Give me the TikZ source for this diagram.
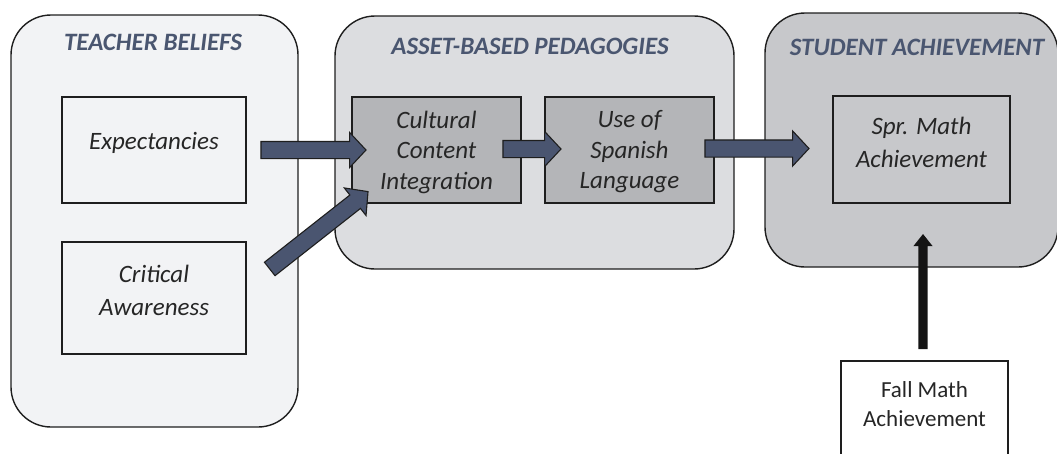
\documentclass[tikz,border=0pt]{standalone}
\usepackage{fontspec}
\setmainfont{Carlito}
\usetikzlibrary{shapes.arrows,calc}
\definecolor{panA}{HTML}{F2F3F5}
\definecolor{panB}{HTML}{DCDDE0}
\definecolor{panC}{HTML}{C7C8CB}
\definecolor{boxB}{HTML}{B4B5B8}
\definecolor{titlec}{HTML}{4A5670}
\definecolor{arrowc}{HTML}{4A5570}
\definecolor{textc}{HTML}{262626}
\definecolor{linec}{HTML}{1E1E1E}
\begin{document}
\begin{tikzpicture}[x=1pt,y=-1pt,
  panel/.style={draw=linec, line width=1.4pt, rounded corners=40pt, inner sep=0pt, outer sep=0pt},
  varbox/.style={draw=linec, line width=1.6pt, inner sep=0pt, outer sep=0pt},
  ptitle/.style={text=titlec, font=\fontsize{25}{30}\selectfont\bfseries\itshape, anchor=base, inner sep=0pt},
  btext/.style={text=textc, align=center, inner sep=0pt},
  barrow/.style={single arrow, draw=linec, line width=1.1pt, fill=arrowc, inner xsep=0pt, inner ysep=8pt,
    single arrow head extend=9pt, single arrow tip angle=94, single arrow head indent=0pt},
  karrow/.style={single arrow, draw=none, fill=black!92, inner xsep=0pt, inner ysep=4.5pt,
    single arrow head extend=5pt, single arrow tip angle=77, single arrow head indent=0pt},
  blockto/.style={to path={let \p1=(\tikztostart), \p2=(\tikztotarget), \n1={veclen(\x2-\x1,\y2-\y1)} in
    -- (\tikztotarget) node[midway, sloped, allow upside down, #1, minimum height=\n1] {}}}
]
\useasboundingbox (0,0) rectangle (1057,453);
% panels
\node[panel, fill=panA, minimum width=287pt, minimum height=412pt] (tb) at (154.5,221) {};
\node[panel, fill=panB, minimum width=399pt, minimum height=253pt] (ab) at (534.5,142.5) {};
\node[panel, fill=panC, minimum width=293pt, minimum height=254pt] (sa) at (911.5,140) {};
% titles
\node[ptitle] (tbt) at (153,50) {TEACHER BELIEFS};
\node[ptitle] (abt) at (530,54) {ASSET-BASED PEDAGOGIES};
\node[ptitle] (sat) at (917,55) {STUDENT ACHIEVEMENT};
% boxes
\node[varbox, fill=panA, minimum width=184pt, minimum height=106pt] (exp) at (154,150) {};
\node[varbox, fill=panA, minimum width=184pt, minimum height=112pt] (crit) at (154,298) {};
\node[varbox, fill=boxB, minimum width=169pt, minimum height=106pt] (cult) at (436.5,150) {};
\node[varbox, fill=boxB, minimum width=169pt, minimum height=106pt] (span) at (629.5,150) {};
\node[varbox, fill=panC, minimum width=177pt, minimum height=107pt] (spr) at (921.5,149.5) {};
\node[varbox, fill=white, minimum width=167pt, minimum height=130pt] (fall) at (924.5,426) {};
% texts
\node[btext, font=\fontsize{25}{31}\selectfont\itshape, anchor=base] (expt) at (154,149) {Expectancies};
\node[btext, font=\fontsize{25}{33}\selectfont\itshape] (critt) at (154,290) {Critical\\Awareness};
\node[btext, font=\fontsize{25}{30.5}\selectfont\itshape] (cultt) at (436.5,152) {Cultural\\Content\\Integration};
\node[btext, font=\fontsize{25}{30.5}\selectfont\itshape] (spant) at (629.5,152) {Use of\\Spanish\\Language};
\node[btext, font=\fontsize{25}{33}\selectfont\itshape] (sprt) at (921.5,142) {Spr. Math\\Achievement};
\node[btext, font=\fontsize{23}{29}\selectfont] (fallt) at (924.5,404) {Fall Math\\Achievement};
% arrow end points
\coordinate (a1s) at ($(exp.east)+(11,0)$);
\coordinate (a1e) at ($(cult.west)+(10,0)$);
\coordinate (a2s) at ($(cult.east)+(-22,-1)$);
\coordinate (a2e) at ($(span.west)+(12,-1)$);
\coordinate (a3s) at ($(span.east)+(-13,-1.5)$);
\coordinate (a3e) at ($(spr.west)+(-28,-1)$);
\coordinate (a4s) at ($(crit.east)+(20.5,-26.5)$);
\coordinate (a4e) at ($(cult.south west)+(13,-9)$);
\coordinate (a5s) at ($(fall.north)+(-1.5,-9)$);
\coordinate (a5e) at ($(sa.south)+(11.5,-30)$);
% arrows
\path (a1s) to[blockto=barrow] (a1e);
\path (a2s) to[blockto=barrow] (a2e);
\path (a3s) to[blockto=barrow] (a3e);
\path (a4s) to[blockto=barrow] (a4e);
\path (a5s) to[blockto=karrow] (a5e);
\end{tikzpicture}
\end{document}
